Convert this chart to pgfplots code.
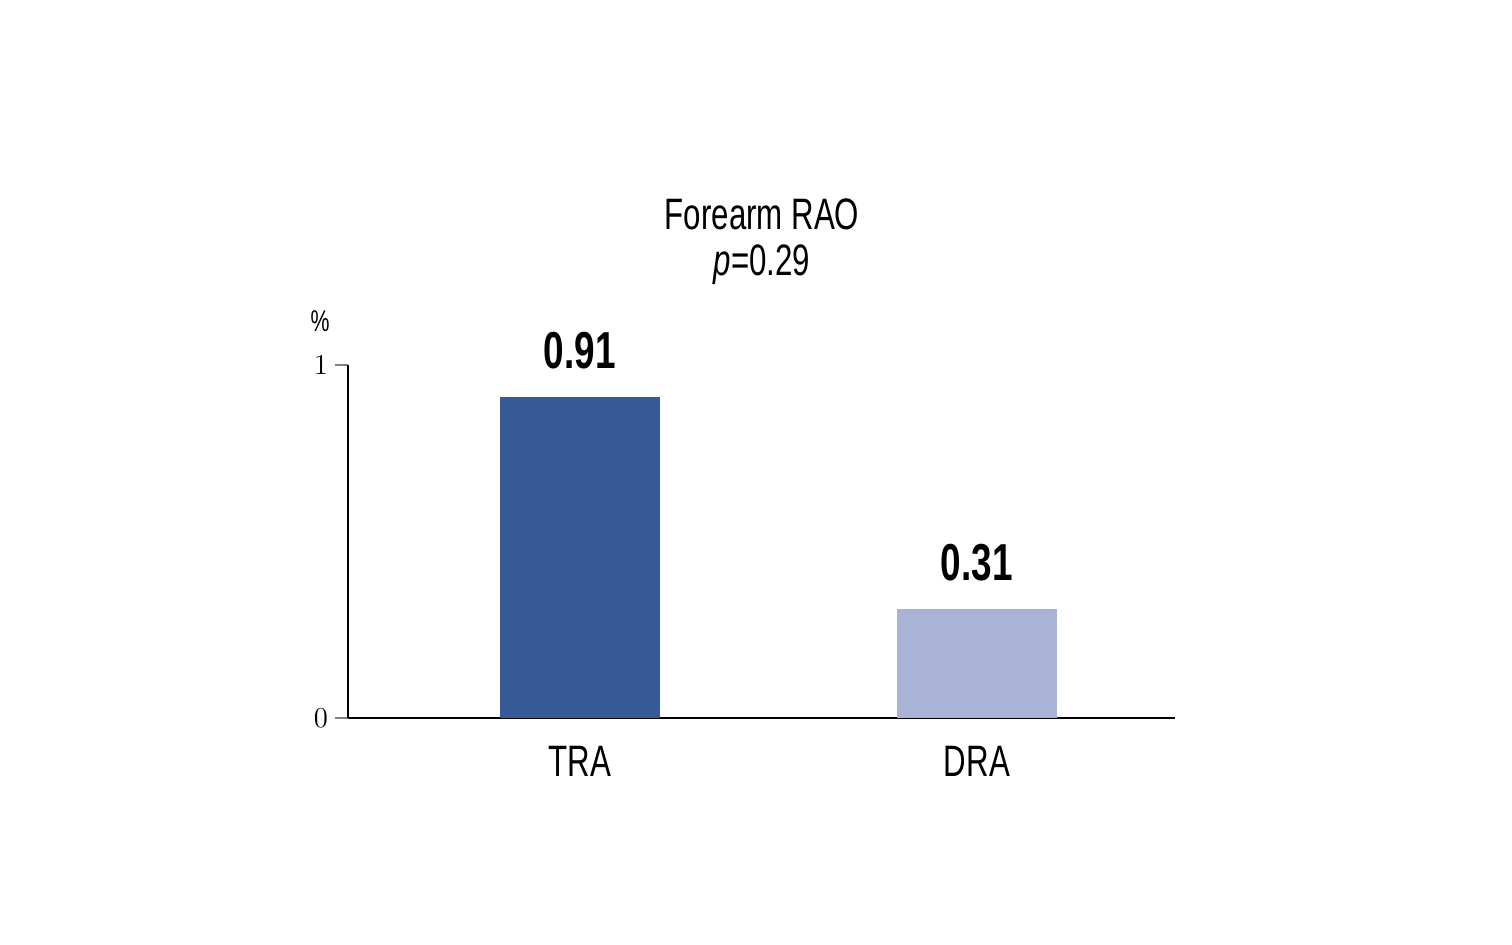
\documentclass[border=0pt]{standalone}
\usepackage{pgfplots}
\pgfplotsset{compat=1.18}
\usepackage{fontspec}
\setmainfont{Liberation Sans}[FakeStretch=0.71]
\definecolor{tra}{HTML}{355A96}
\definecolor{dra}{HTML}{A9B3D6}
\begin{document}
\begin{tikzpicture}[x=0.5pt,y=0.5pt]
\path[use as bounding box] (-348,-227) rectangle (1164,718);
\begin{axis}[
  at={(0,0)}, anchor=south west,
  scale only axis, width=413.5pt, height=176.5pt,
  xmin=-0.584, xmax=1.499, ymin=0, ymax=1,
  axis lines*=left, axis line style={line width=1pt},
  axis x line*=bottom,
  xtick={0,1}, xticklabels={TRA,DRA}, xtick style={draw=none},
  xticklabel style={font=\fontsize{22}{26}\selectfont, yshift=-4pt},
  ytick={0,1}, yticklabels={$0$,$1$},
  yticklabel style={font=\fontsize{15}{18}\selectfont},
  ytick style={line width=0.8pt}, tick align=outside, major tick length=6.5pt,
  ybar, bar width=80pt,
  clip=false,
  nodes near coords, point meta=explicit symbolic,
  every node near coord/.append style={font=\bfseries\fontsize{26}{30}\selectfont, anchor=base, yshift=14pt, black},
]
\addplot[fill=tra, draw=none, bar shift=0pt] coordinates {(0,0.91) [0.91]};
\addplot[fill=dra, draw=none, bar shift=0pt] coordinates {(1,0.31) [0.31]};
\end{axis}
\node[font=\fontsize{22}{26}\selectfont] at (414,504) {Forearm RAO};
\node[font=\fontsize{22}{26}\selectfont] at (414,453) {\textit{p}=0.29};
\node[font=\fontsize{15}{18}\selectfont] at (-28,397) {\%};
\end{tikzpicture}
\end{document}
